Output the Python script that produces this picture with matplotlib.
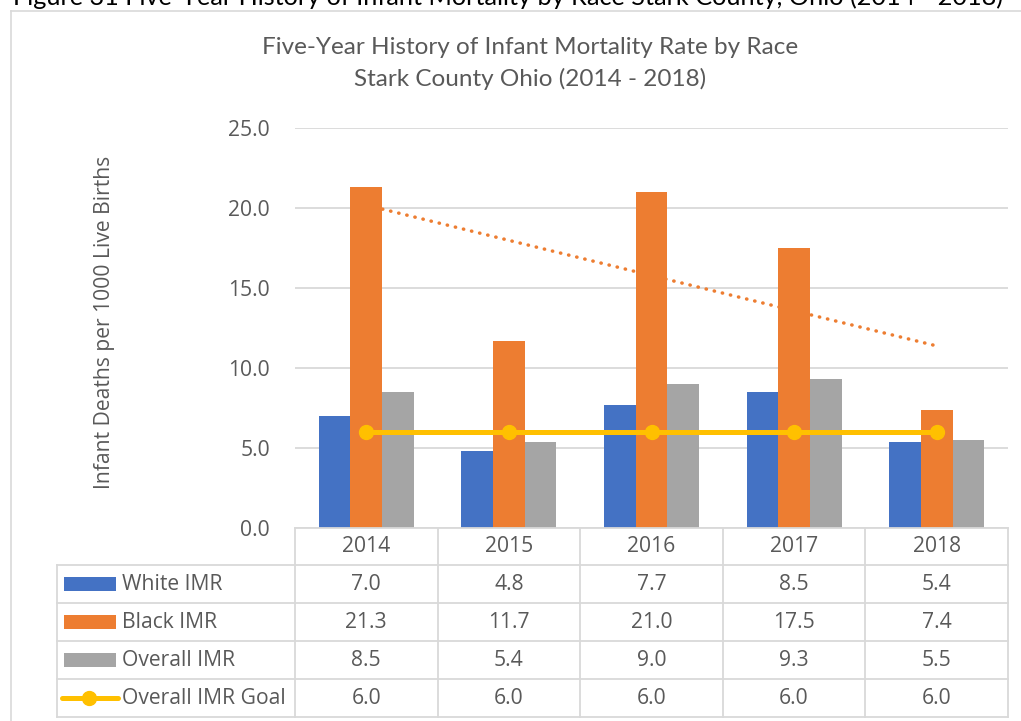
import numpy as np
import matplotlib
matplotlib.use("Agg")
import matplotlib.pyplot as plt
from matplotlib.lines import Line2D
from matplotlib.patches import Rectangle
import matplotlib.transforms as mtransforms

# ---- data ----
years = ["2014", "2015", "2016", "2017", "2018"]
white_imr = [7.0, 4.8, 7.7, 8.5, 5.4]
black_imr = [21.3, 11.7, 21.0, 17.5, 7.4]
overall_imr = [8.5, 5.4, 9.0, 9.3, 5.5]
goal_imr = [6.0, 6.0, 6.0, 6.0, 6.0]
series_names = ["White IMR", "Black IMR", "Overall IMR", "Overall IMR Goal"]
yticks = [0, 5, 10, 15, 20, 25]

title_lines = ["Five-Year History of Infant Mortality Rate by Race",
               "Stark County Ohio (2014 - 2018)"]
caption = "Figure 31 Five-Year History of Infant Mortality by Race Stark County, Ohio (2014 - 2018)"
ylabel = "Infant Deaths per 1000 Live Births"

C_BLUE = "#4472C4"
C_ORANGE = "#ED7D31"
C_GRAY = "#A5A5A5"
C_GOLD = "#FFC000"
C_TEXT = "#595959"
C_GRID = "#D9D9D9"
BODY = ["Open Sans", "DejaVu Sans"]
TITLE = ["Lato", "DejaVu Sans"]
plt.rcParams["font.family"] = BODY
FS = 15.2

W, H = 1021, 721
fig = plt.figure(figsize=(W / 100, H / 100), dpi=100)

def fx(px):
    return px / W

def fy(py):
    return 1 - py / H

# chart border
fig.add_artist(Line2D([fx(11), fx(11)], [fy(11), fy(721)], color=C_GRID, lw=1.2))
fig.add_artist(Line2D([fx(11), fx(1021)], [fy(11), fy(11)], color=C_GRID, lw=1.2))

# caption, partly cut off at the top (as in the reference)
fig.text(fx(13), fy(5), caption, fontsize=18.2, color="black", ha="left", va="baseline",
         family=TITLE)

# title
fig.text(fx(530), fy(47), title_lines[0], fontsize=17.5, color=C_TEXT, ha="center", va="center",
         family=TITLE)
fig.text(fx(530), fy(79), title_lines[1], fontsize=17.5, color=C_TEXT, ha="center", va="center",
         family=TITLE)

# main axes
x_left, x_right, y_top, y_bot = 295, 1008, 128, 528
ax = fig.add_axes([fx(x_left), fy(y_bot), fx(x_right) - fx(x_left), (y_bot - y_top) / H])
ax.set_xlim(0, len(years))
ax.set_ylim(0, 25)
for s in ax.spines.values():
    s.set_visible(False)
ax.set_xticks([])
ax.set_yticks(yticks)
ax.set_yticklabels([f"{v:.1f}" for v in yticks], fontsize=FS, color=C_TEXT)
ax.tick_params(axis="y", length=0, pad=18)
ax.yaxis.grid(True, color=C_GRID, lw=1.3)
ax.set_axisbelow(True)
ax.set_ylabel(ylabel, fontsize=FS, color=C_TEXT, va="center")
ax.yaxis.set_label_coords((105 - x_left) / (x_right - x_left), (y_bot - 322) / (y_bot - y_top))

xc = np.arange(len(years)) + 0.5
bw = 1 / 4.5
ax.bar(xc - bw, white_imr, bw, color=C_BLUE, zorder=3)
ax.bar(xc, black_imr, bw, color=C_ORANGE, zorder=3)
ax.bar(xc + bw, overall_imr, bw, color=C_GRAY, zorder=3)

# linear trendline of Black IMR (behind bars)
idx = np.arange(1, len(years) + 1)
coef = np.polyfit(idx, black_imr, 1)
ax.plot(xc, np.polyval(coef, idx), color=C_ORANGE, lw=2.5,
        linestyle=(0, (0.1, 2.3)), dash_capstyle="round", zorder=2)

# goal line
ax.plot(xc, goal_imr, color=C_GOLD, lw=3.6, marker="o", markersize=10, zorder=4, clip_on=False)

# ---- data table ----
tblend = mtransforms.blended_transform_factory(ax.transData, fig.transFigure)
row_edges = [528, 565, 603, 641, 679, 717]
lw_t = 1.3
fig.add_artist(Line2D([0, len(years)], [fy(528)] * 2, color=C_GRID, lw=lw_t, transform=tblend))
for i in range(len(years) + 1):
    fig.add_artist(Line2D([i, i], [fy(528), fy(717)], color=C_GRID, lw=lw_t, transform=tblend))
fig.add_artist(Line2D([fx(57), fx(57)], [fy(565), fy(717)], color=C_GRID, lw=lw_t))
for r in row_edges[1:]:
    fig.add_artist(Line2D([fx(57), fx(x_right)], [fy(r), fy(r)], color=C_GRID, lw=lw_t))

for i, yr in enumerate(years):
    fig.text(xc[i], fy(547), yr, transform=tblend, ha="center", va="center", fontsize=FS, color=C_TEXT)

rows = [white_imr, black_imr, overall_imr, goal_imr]
for r, (name, vals) in enumerate(zip(series_names, rows)):
    ymid = (row_edges[r + 1] + row_edges[r + 2]) / 2
    for i, v in enumerate(vals):
        fig.text(xc[i], fy(ymid), f"{v:.1f}", transform=tblend, ha="center", va="center",
                 fontsize=FS, color=C_TEXT)
    fig.text(fx(122), fy(ymid), name, ha="left", va="center", fontsize=FS, color=C_TEXT)
    if r < 3:
        col = [C_BLUE, C_ORANGE, C_GRAY][r]
        fig.add_artist(Rectangle((fx(64), fy(ymid + 7)), fx(116) - fx(64), 14 / H,
                                 facecolor=col, edgecolor="none", transform=fig.transFigure))
    else:
        fig.add_artist(Line2D([fx(62), fx(118)], [fy(ymid), fy(ymid)], color=C_GOLD, lw=3.6,
                              solid_capstyle="round"))
        fig.add_artist(Line2D([fx(89)], [fy(ymid)], color=C_GOLD, marker="o", markersize=10, lw=0))

fig.savefig("out.png", dpi=100)
